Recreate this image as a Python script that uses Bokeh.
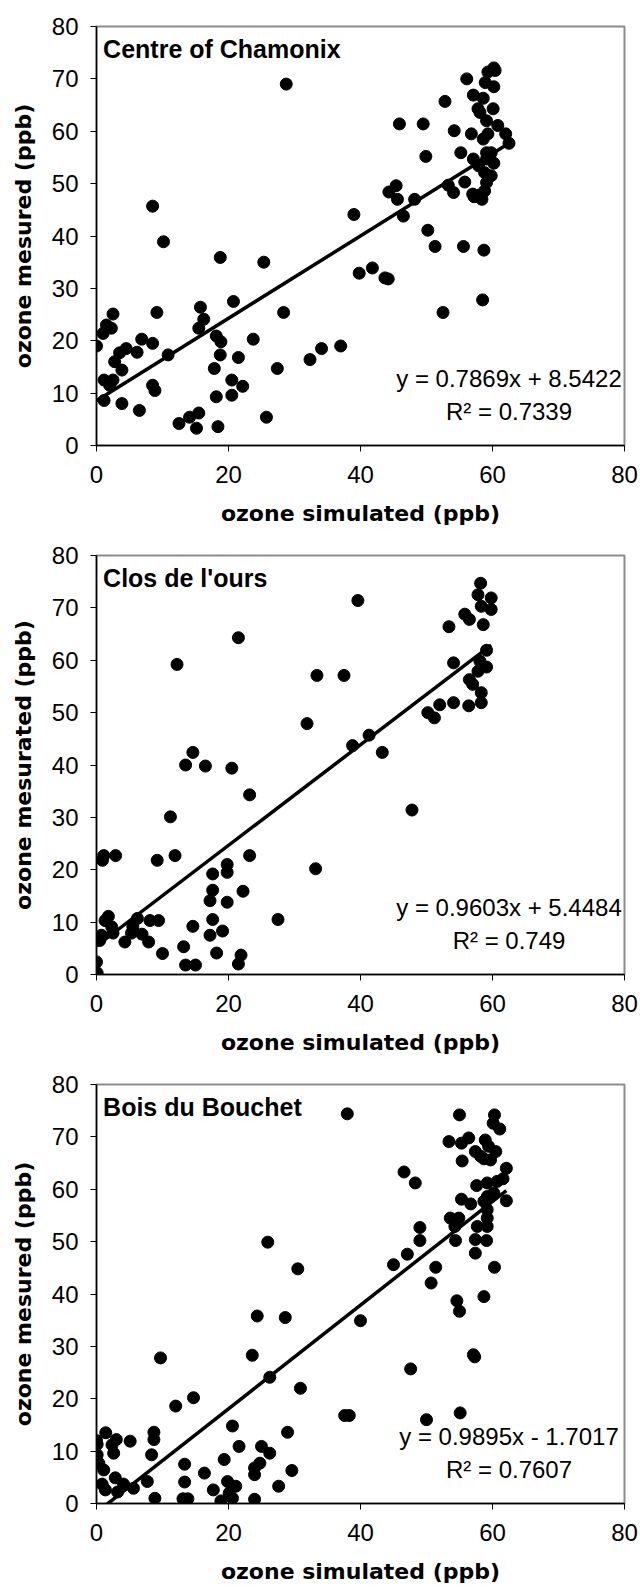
import numpy as np
from bokeh.plotting import figure
from bokeh.layouts import column
from bokeh.models import Range1d, FixedTicker, Label
from bokeh.embed import file_html
from bokeh.resources import INLINE

# ---------------- data ----------------
titles = ["Centre of Chamonix", "Clos de l'ours", "Bois du Bouchet"]
y_labels = ["ozone mesured (ppb)", "ozone mesurated (ppb)", "ozone mesured (ppb)"]
x_label = "ozone simulated (ppb)"
equations = ["y = 0.7869x + 8.5422", "y = 0.9603x + 5.4484", "y = 0.9895x - 1.7017"]
r2_texts = ["R\u00b2 = 0.7339", "R\u00b2 = 0.749", "R\u00b2 = 0.7607"]
slopes = [0.7869, 0.9603, 0.9895]
intercepts = [8.5422, 5.4484, -1.7017]
x_ticks = [0, 20, 40, 60, 80]
y_ticks = [0, 10, 20, 30, 40, 50, 60, 70, 80]

chamonix_sim = [28.75, 8.5, 10.15, 18.75, 25.35, 9.15, 15.75, 16.25, 15.5, 20.75, 28.35, 2.5, 1.5, 2.25, 1.0, 0.0,
                6.85, 8.5, 10.85, 6.15, 4.5, 3.5, 2.75, 3.85, 1.15, 2.5, 2.0, 1.15, 3.85, 6.5, 8.5, 8.85, 18.15,
                18.85, 18.75, 17.85, 18.15, 20.5, 20.5, 21.5, 22.15, 23.75, 27.4, 32.35, 34.1, 37.0, 12.5, 14.1,
                15.5, 15.15, 18.4, 25.75,
                39.0, 39.8, 41.8, 43.7, 44.2, 44.3, 45.4, 45.6, 46.5, 48.2, 45.9, 49.5, 49.9, 50.2, 51.3, 52.5,
                52.8, 54.2, 53.3, 54.1, 55.2, 55.8, 55.6, 56.1, 57.1, 57.8, 56.8, 57.1, 57.0, 58.4, 58.5, 58.7,
                58.9, 59.3, 60.2, 60.4, 60.2, 58.6, 60.1, 59.1, 60.8, 59.3, 58.6, 62.0, 62.5, 59.8, 59.1, 60.2,
                58.8, 59.8, 59.1, 58.8, 58.0, 59.1, 57.9, 57.2, 58.1]
chamonix_mes = [69.0, 45.7, 38.9, 35.9, 35.0, 25.4, 26.4, 24.1, 22.4, 27.5, 25.4, 25.1, 23.0, 22.4, 21.4, 19.0,
                20.3, 19.5, 17.3, 17.8, 18.5, 17.7, 16.0, 14.4, 12.5, 12.5, 11.5, 8.6, 8.0, 6.7, 11.5, 10.5, 20.9,
                19.8, 17.3, 14.7, 9.3, 12.5, 9.6, 16.8, 11.3, 20.3, 14.7, 16.4, 18.5, 19.0, 4.2, 5.4,
                6.2, 3.3, 3.6, 5.4,
                44.1, 32.9, 33.9, 32.0, 31.8, 48.4, 49.6, 47.0, 43.8, 47.0, 61.4, 61.4, 55.2, 41.1, 38.0, 25.4,
                65.7, 60.1, 49.7, 48.3, 55.9, 50.3, 38.0, 70.0, 66.9, 64.3, 59.5, 54.7, 48.0, 47.0, 27.8, 37.3,
                69.3, 71.3, 72.1, 71.6, 68.5, 66.3, 64.3, 62.0, 61.1, 59.5, 58.5, 59.5, 57.7, 55.9, 54.7, 53.9,
                52.1, 51.5, 50.2, 48.6, 47.8, 55.9, 53.4, 47.5, 63.6]

ours_sim = [21.5, 12.2, 33.4, 37.5, 31.9, 14.6, 13.5, 16.5, 20.5, 23.2, 11.2, 1.1, 0.9, 2.9, 9.2, 11.9, 23.2,
            33.2, 19.8, 19.8, 17.6, 17.6, 17.2, 19.8, 22.2, 27.5, 1.8, 1.3, 2.3, 2.5, 0.75, 0.5, 4.3, 5.3, 5.5,
            6.2, 6.9, 7.9, 8.1, 9.4, 10.0, 14.6, 13.2, 13.5, 15.0, 17.6, 17.2, 19.1, 18.2, 21.9, 21.5, 0.0, 0.1,
            39.6, 58.2, 57.8, 59.8, 59.8, 58.3, 55.8, 56.5, 53.4, 58.6, 59.1, 54.1, 58.1, 59.1, 57.8, 56.5,
            57.0, 58.3, 58.3, 56.4, 54.1, 52.0, 51.2, 50.2, 41.3, 38.8, 43.3, 47.8]
ours_mes = [64.3, 59.2, 57.1, 57.1, 47.9, 42.4, 40.0, 39.8, 39.4, 34.3, 30.1, 22.7, 21.8, 22.7, 21.8, 22.7, 22.7,
            20.2, 21.0, 19.5, 19.2, 16.1, 14.1, 13.8, 15.9, 10.5, 11.1, 10.3, 9.1, 7.9, 7.5, 6.5, 6.2, 7.9, 9.1,
            10.7, 7.7, 6.2, 10.3, 10.3, 4.0, 9.2, 5.3, 1.8, 1.8, 10.5, 7.5, 8.3, 4.1, 3.7, 2.0, 2.4, 0.3,
            71.4, 74.7, 72.5, 71.9, 69.7, 70.3, 68.8, 67.8, 66.4, 66.8, 61.9, 59.5, 59.8, 58.7, 57.9, 56.3,
            55.4, 53.8, 51.9, 51.3, 51.9, 51.5, 49.0, 50.0, 45.7, 43.7, 42.4, 31.4]

bouchet_sim = [38.0, 25.95, 30.5, 24.35, 28.6, 9.7, 23.6, 26.25, 30.9, 12.0, 14.7, 20.6, 28.95, 0.0, 1.4, 3.0,
               5.1, 2.35, 8.7, 8.7, 8.35, 0.1, 0.1, 0.35, 1.1, 2.85, 4.1, 0.85, 1.35, 5.6, 7.7, 13.35, 13.35,
               16.35, 19.35, 21.6, 25.0, 26.25, 24.75, 23.95, 23.95, 19.85, 21.1, 17.7, 20.1, 20.6, 27.6, 29.6,
               8.85, 13.1, 13.85, 18.85, 23.95, 37.6, 38.3, 2.6, 3.2, 50.0, 55.1,
               55.0, 60.3, 60.1, 61.1, 53.4, 55.3, 56.4, 58.9, 57.4, 58.2, 59.4, 60.5, 59.7, 58.7, 55.4, 62.1,
               61.6, 60.7, 57.6, 59.2, 46.6, 48.3, 60.2, 59.2, 62.1, 55.3, 56.7, 58.7, 59.2, 59.2, 59.2, 57.7,
               53.6, 54.9, 54.3, 57.4, 59.1, 54.4, 57.4, 60.3, 49.0, 49.0, 47.1, 45.0, 51.4, 50.7, 54.6, 55.0,
               58.7, 57.1, 57.3, 47.6, 40.0]
bouchet_mes = [74.4, 49.9, 44.8, 35.8, 35.5, 27.8, 28.3, 24.1, 22.0, 18.6, 20.2, 14.8, 13.6, 12.0, 13.5, 12.2,
               11.9, 11.2, 13.6, 12.2, 9.3, 11.3, 9.3, 7.7, 6.4, 4.9, 3.7, 3.7, 2.6, 2.9, 4.2, 7.5, 4.1,
               5.8, 8.4, 10.9, 10.9, 9.6, 7.7, 6.8, 5.5, 4.2, 3.3, 2.6, 2.0, 1.0, 3.3, 6.3,
               1.0, 0.9, 0.9, 0.5, 0.8, 16.8, 16.8, 9.6, 2.2, 16.0, 17.3,
               74.2, 74.2, 72.6, 71.5, 69.1, 68.8, 69.8, 69.4, 67.2, 66.3, 68.2, 67.2, 65.6, 65.8, 65.4, 64.0,
               62.0, 61.5, 60.7, 61.2, 63.3, 61.2, 59.3, 58.6, 57.8, 58.1, 57.2, 57.7, 56.1, 54.5, 52.9, 52.9,
               54.5, 54.5, 52.9, 50.4, 50.2, 50.2, 47.8, 45.1, 52.7, 50.2, 47.6, 45.6, 45.1, 42.1, 38.7, 36.7,
               39.5, 28.4, 28.0, 25.7, 34.9]

sims = [chamonix_sim, ours_sim, bouchet_sim]
meas = [chamonix_mes, ours_mes, bouchet_mes]

FONT = "Liberation Sans"
TITLE_FONT = "DejaVu Sans"


def make_panel(i, height, border_top, border_bottom):
    p = figure(width=640, height=height, output_backend="svg", toolbar_location=None,
               x_range=Range1d(0, 80), y_range=Range1d(0, 80),
               min_border_left=96, min_border_right=16, min_border_top=border_top,
               min_border_bottom=border_bottom)
    p.xgrid.visible = False
    p.ygrid.visible = False
    p.background_fill_color = "white"
    p.border_fill_color = "white"
    p.outline_line_color = "#8c8c8c"
    p.outline_line_width = 2

    for ax in (p.xaxis[0], p.yaxis[0]):
        ax.axis_line_color = "black"
        ax.axis_line_width = 1.5
        ax.major_tick_line_color = "black"
        ax.major_tick_line_width = 1
        ax.major_tick_out = 6
        ax.major_tick_in = 0
        ax.minor_tick_line_color = None
        ax.major_label_text_font = FONT
        ax.major_label_text_font_size = "24px"
        ax.major_label_text_color = "black"
        ax.axis_label_text_font = TITLE_FONT
        ax.axis_label_text_font_size = "22px"
        ax.axis_label_text_font_style = "bold"
        ax.axis_label_text_color = "black"
    p.xaxis.ticker = FixedTicker(ticks=x_ticks)
    p.yaxis.ticker = FixedTicker(ticks=y_ticks)
    p.xaxis.axis_label = x_label
    p.yaxis.axis_label = y_labels[i]
    p.xaxis.major_label_standoff = 14
    p.xaxis.axis_label_standoff = 15
    p.yaxis.major_label_standoff = 12
    p.yaxis.axis_label_standoff = 13

    xs = np.array(sims[i])
    ys = np.array(meas[i])
    p.scatter(xs, ys, size=12, color="black", line_color="black")
    lx = np.array([xs.min(), xs.max()])
    p.line(lx, slopes[i] * lx + intercepts[i], line_color="black", line_width=3.5)

    p.add_layout(Label(x=1.0, y=75.7, text=titles[i], text_font=FONT, text_font_size="25px",
                       text_font_style="bold", text_baseline="middle", text_align="left",
                       text_color="black"))
    p.add_layout(Label(x=62.5, y=12.8, text=equations[i], text_font=FONT, text_font_size="24px",
                       text_baseline="middle", text_align="center", text_color="black"))
    p.add_layout(Label(x=62.5, y=6.4, text=r2_texts[i], text_font=FONT, text_font_size="24px",
                       text_baseline="middle", text_align="center", text_color="black"))
    return p


p1 = make_panel(0, 537, 26, 92)
p2 = make_panel(1, 529, 18, 92)
p3 = make_panel(2, 528, 18, 91)
layout = column(p1, p2, p3, spacing=0)

open("out.html", "w").write(file_html(layout, INLINE))
